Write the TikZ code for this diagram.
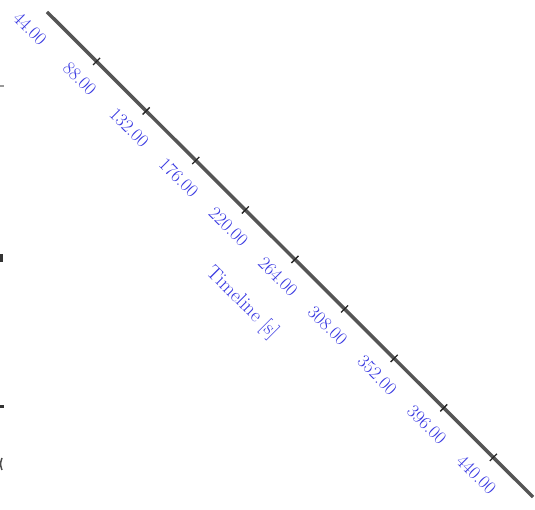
\documentclass[tikz,border=0pt]{standalone}
\usepackage{fontspec}
\usetikzlibrary{calc}
\definecolor{lbl}{RGB}{55,55,225}
\definecolor{axisgray}{RGB}{85,85,85}
\tikzset{
  ticklabel/.style={text=lbl, font=\fontsize{18.5}{20}\selectfont, rotate=-45, anchor=center, inner sep=0pt},
  axislabel/.style={text=lbl, font=\fontsize{20}{22}\selectfont, rotate=-45, anchor=center, inner sep=0pt},
  axisline/.style={draw=axisgray, line width=3.5pt},
  tickmark/.style={draw=black!85, line width=1.3pt},
  frag/.style={fill=black!80, draw=none}
}
\begin{document}
\begin{tikzpicture}[x=1pt,y=1pt]
\useasboundingbox (0,0) rectangle (535,510);
\coordinate (A) at (47,498);
\coordinate (B) at (533,13);
\draw[axisline] (A) -- (B);
\foreach \k/\v in {0/44.00,1/88.00,2/132.00,3/176.00,4/220.00,5/264.00,6/308.00,7/352.00,8/396.00,9/440.00}{
  \coordinate (t\k) at ($(A)!\k/9.8!(B)$);
  \node[ticklabel] (l\k) at ($(t\k)!24pt!-90:(B)$) {\v};
}
\foreach \k in {1,...,9}{
  \coordinate (ta\k) at ($(t\k)!5pt!90:(B)$);
  \coordinate (tb\k) at ($(t\k)!5pt!-90:(B)$);
  \draw[tickmark] (ta\k) -- (tb\k);
}
\coordinate (mid) at ($(A)!0.5!(B)$);
\node[axislabel] (title) at ($(mid)!68pt!-90:(B)$) {Timeline [s]};
% fragments at the left edge
\fill[frag] (0,248) rectangle (3,256);
\fill[frag] (0,102) rectangle (4,104.5);
\fill[black!40] (0,423) rectangle (4,424.5);
\draw[black!70, line width=1.5pt] (2,40) .. controls (0,46) .. (2,52);
\end{tikzpicture}
\end{document}
